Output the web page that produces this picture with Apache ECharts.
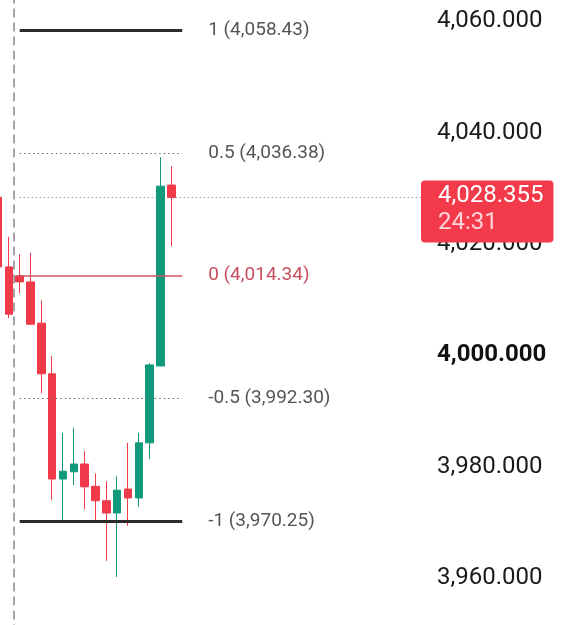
<!DOCTYPE html>
<html>
<head>
<meta charset="utf-8">
<script src="https://cdn.jsdelivr.net/npm/echarts@6/dist/echarts.min.js"></script>
<style>
  html, body { margin: 0; padding: 0; background: #fff; }
  #main { width: 564px; height: 625px; }
</style>
</head>
<body>
<div id="main"></div>
<script>
// candles, oldest first (last one is still open)
var opens  = [4028.4, 4015.9, 4014.3, 4013.2, 4005.8, 3996.7, 3977.8, 3979.1, 3980.5, 3976.5, 3973.9, 3971.7, 3976.0, 3974.4, 3984.3, 3998.1, 4030.6];
var closes = [4015.9, 4007.4, 4013.2, 4005.6, 3996.7, 3977.8, 3979.2, 3980.5, 3976.4, 3973.9, 3971.7, 3975.8, 3974.4, 3984.3, 3998.3, 4030.4, 4028.355];
var lows   = [4013.0, 4006.7, 4011.2, 4005.5, 3993.2, 3974.0, 3970.1, 3976.7, 3972.4, 3969.9, 3963.1, 3960.2, 3969.4, 3972.8, 3981.4, 3998.1, 4019.6];
var highs  = [4031.0, 4021.3, 4018.2, 4018.4, 4009.9, 3999.9, 3986.1, 3987.0, 3982.8, 3978.8, 3977.4, 3978.3, 3984.3, 3986.1, 3998.6, 4035.6, 4034.0];

// fib levels
var fibRatios = ['1', '0.5', '0', '-0.5', '-1'];
var fibPrices = [4058.43, 4036.38, 4014.34, 3992.30, 3970.25];

var lastPrice = 4028.355;
var countdown = '24:31';

var SLOTS = 40; // empty slots on the right
var categories = [];
for (var i = 0; i < SLOTS; i++) categories.push(String(i));

function fmt(v, d) {
    var s = v.toFixed(d).split('.');
    s[0] = s[0].replace(/\B(?=(\d{3})+(?!\d))/g, ',');
    return s.join('.');
}

var candles = opens.map(function (o, i) {
    return [o, closes[i], lows[i], highs[i]];
});

var fibStyles = {
    '1':    {color: '#2b2b2b', width: 3, type: 'solid', text: '#555'},
    '0.5':  {color: '#666', width: 1, type: [1.5, 3], text: '#555'},
    '0':    {color: '#cf5565', width: 1.5, type: 'solid', text: '#c9505f'},
    '-0.5': {color: '#666', width: 1, type: [1.5, 3], text: '#555'},
    '-1':   {color: '#2b2b2b', width: 3, type: 'solid', text: '#555'}
};

var lines = fibPrices.map(function (p, i) {
    var st = fibStyles[fibRatios[i]];
    return [{
        coord: [2, p],
        lineStyle: {color: st.color, width: st.width, type: st.type},
        label: {
            show: true, position: 'end', distance: 26,
            formatter: fibRatios[i] + ' (' + fmt(p, 2) + ')',
            color: st.text, fontSize: 19, fontFamily: 'Roboto'
        }
    }, {coord: [17, p]}];
});

// session separator
lines.push({
    xAxis: 1.45,
    lineStyle: {color: '#888', width: 1.5, type: [9, 5]},
    label: {show: false}
});

// current price
lines.push([{
    coord: [2, lastPrice],
    lineStyle: {color: '#777', width: 1, type: [1, 3]},
    label: {
        show: true, position: 'end', distance: -5, offset: [0, 14],
        formatter: '{p|' + fmt(lastPrice, 3) + '}\n{t|' + countdown + '}',
        backgroundColor: '#f23a4a', borderRadius: 4, padding: [2, 10, 6, 17],
        rich: {
            p: {color: '#fff', fontSize: 24, lineHeight: 27, fontFamily: 'Roboto'},
            t: {color: 'rgba(255,255,255,0.78)', fontSize: 24, lineHeight: 27, fontFamily: 'Roboto'}
        }
    }
}, {coord: [SLOTS - 0.5, lastPrice]}]);

var chart = echarts.init(document.getElementById('main'));
chart.setOption({
    backgroundColor: '#fff',
    animation: false,
    grid: {left: -7.4, right: 138, top: -90, bottom: -64.5, outerBoundsMode: 'none'},
    xAxis: [
        {type: 'category', data: categories, boundaryGap: true, show: false},
        {type: 'value', min: -0.5, max: SLOTS - 0.5, show: false}
    ],
    yAxis: {
        type: 'value', position: 'right', min: 3940, max: 4080, interval: 20, scale: true,
        axisLine: {show: false}, axisTick: {show: false}, splitLine: {show: false},
        axisLabel: {
            margin: 11, fontSize: 24, color: '#1a1a1a', fontFamily: 'Roboto',
            formatter: function (v) {
                return v === 4000 ? '{b|' + fmt(v, 3) + '}' : fmt(v, 3);
            },
            rich: {b: {fontSize: 24, fontWeight: 'bold', color: '#111', fontFamily: 'Roboto'}}
        }
    },
    series: [
        {
            type: 'line', xAxisIndex: 1, yAxisIndex: 0, data: [], z: 1,
            markLine: {symbol: 'none', silent: true, animation: false, data: lines}
        },
        {
            type: 'candlestick', xAxisIndex: 0, yAxisIndex: 0, barWidth: 8, z: 3,
            itemStyle: {
                color: '#10997a', color0: '#f03a4a',
                borderColor: '#10997a', borderColor0: '#f03a4a', borderWidth: 1
            },
            data: candles
        }
    ]
});
</script>
</body>
</html>
